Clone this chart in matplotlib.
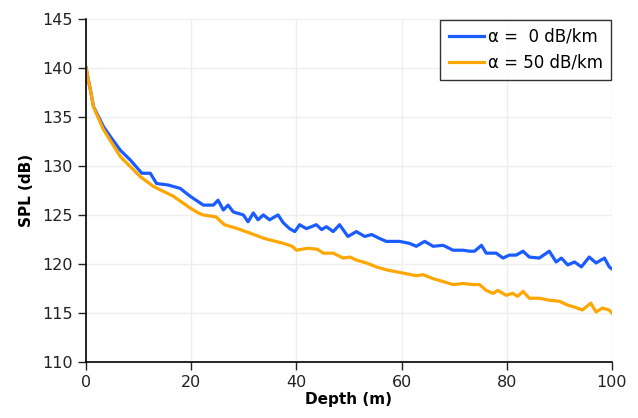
import matplotlib
matplotlib.use("Agg")
import matplotlib.pyplot as plt

# depth (m) and SPL (dB)
depth_0 = [0, 0.4, 0.76, 1.4, 3.3, 4.6, 6.5, 8.4, 10.6, 12.2, 13.4, 15.6, 17.9,
           19.8, 22.3, 24.2, 25.1, 26.1, 27.0, 28.0, 29.9, 30.8, 31.8, 32.7, 33.7,
           34.9, 36.5, 37.5, 38.7, 39.7, 40.6, 41.9, 43.8, 44.8, 45.7, 47.0, 48.2,
           49.8, 51.4, 53.0, 54.3, 55.8, 57.1, 59.6, 61.5, 62.8, 64.4, 66.0, 67.9,
           69.8, 71.7, 72.9, 73.9, 75.2, 76.1, 78.0, 79.3, 80.5, 81.8, 83.1, 84.3,
           86.2, 88.1, 89.4, 90.4, 91.6, 92.9, 94.2, 95.7, 97.0, 98.6, 99.5, 100]
spl_0 = [140.0, 138.8, 137.9, 136.05, 134.0, 133.0, 131.6, 130.6, 129.25, 129.25, 128.2,
         128.05, 127.7, 126.9, 126.0, 126.0, 126.5, 125.5, 126.0, 125.3, 125.0, 124.3,
         125.2, 124.5, 125.0, 124.5, 125.0, 124.2, 123.6, 123.3, 124.0, 123.6, 124.0,
         123.5, 123.8, 123.3, 124.0, 122.8, 123.3, 122.8, 123.0, 122.6, 122.3, 122.3,
         122.1, 121.8, 122.3, 121.8, 121.9, 121.4, 121.4, 121.3, 121.3, 121.9, 121.1,
         121.1, 120.6, 120.9, 120.9, 121.3, 120.7, 120.6, 121.3, 120.2, 120.6, 119.9,
         120.2, 119.7, 120.7, 120.1, 120.6, 119.7, 119.5]

depth_50 = [0, 0.4, 0.76, 1.4, 3.3, 6.5, 10.3, 12.8, 16.6, 19.8, 21.0, 22.2, 24.7,
            26.3, 28.8, 31.4, 33.9, 37.5, 39.2, 40.0, 42.2, 44.0, 45.1, 47.0, 48.9,
            50.2, 51.4, 53.3, 55.2, 57.1, 59.0, 60.9, 62.8, 64.1, 66.0, 67.9, 69.8,
            71.7, 73.6, 74.8, 76.1, 77.4, 78.3, 79.9, 81.1, 82.1, 83.1, 84.3, 86.2,
            88.1, 90.0, 91.6, 92.9, 94.4, 96.0, 97.0, 98.2, 99.5, 100]
spl_50 = [140.0, 138.8, 137.9, 136.0, 133.7, 130.95, 128.9, 127.9, 126.9, 125.7, 125.3,
          125.0, 124.8, 124.0, 123.6, 123.1, 122.6, 122.1, 121.8, 121.4, 121.6, 121.5,
          121.1, 121.1, 120.6, 120.7, 120.4, 120.1, 119.7, 119.4, 119.2, 119.0, 118.8,
          118.9, 118.5, 118.2, 117.9, 118.0, 117.9, 117.9, 117.3, 117.0, 117.3, 116.8,
          117.0, 116.7, 117.2, 116.5, 116.5, 116.3, 116.2, 115.8, 115.6, 115.3, 116.0,
          115.1, 115.5, 115.3, 115.0]

labels = ["α =  0 dB/km", "α = 50 dB/km"]
x_ticks = [0, 20, 40, 60, 80, 100]
y_ticks = [110, 115, 120, 125, 130, 135, 140, 145]

plt.rcParams['font.family'] = ['DejaVu Sans']

fig = plt.figure(figsize=(6.38, 4.18), dpi=100)
ax = fig.add_axes([0.135, 0.134, 0.824, 0.821])

ax.plot(depth_0, spl_0, color='#1a5cff', lw=2.3, label=labels[0])
ax.plot(depth_50, spl_50, color='#ffa600', lw=2.3, label=labels[1])

ax.set_xlim(0, 100)
ax.set_ylim(110, 145)
ax.set_xticks(x_ticks)
ax.set_yticks(y_ticks)
ax.tick_params(direction='out', length=6, width=1, labelsize=11.5, colors='#222222')
ax.grid(True, color='#eeeeee', lw=1)
ax.set_axisbelow(True)
for s in ['top', 'right']:
    ax.spines[s].set_visible(False)
for s in ['left', 'bottom']:
    ax.spines[s].set_linewidth(1.2)

ax.set_xlabel("Depth (m)", fontsize=11, fontweight='bold', labelpad=1)
ax.set_ylabel("SPL (dB)", fontsize=11, fontweight='bold', labelpad=6)

leg = ax.legend(loc='upper right', fontsize=12, frameon=True, fancybox=False,
                edgecolor='black', handlelength=2.1, handletextpad=0.25,
                borderpad=0.5, labelspacing=0.45, borderaxespad=0.05)
leg.get_frame().set_linewidth(1.0)

fig.savefig("out.png", dpi=100)
